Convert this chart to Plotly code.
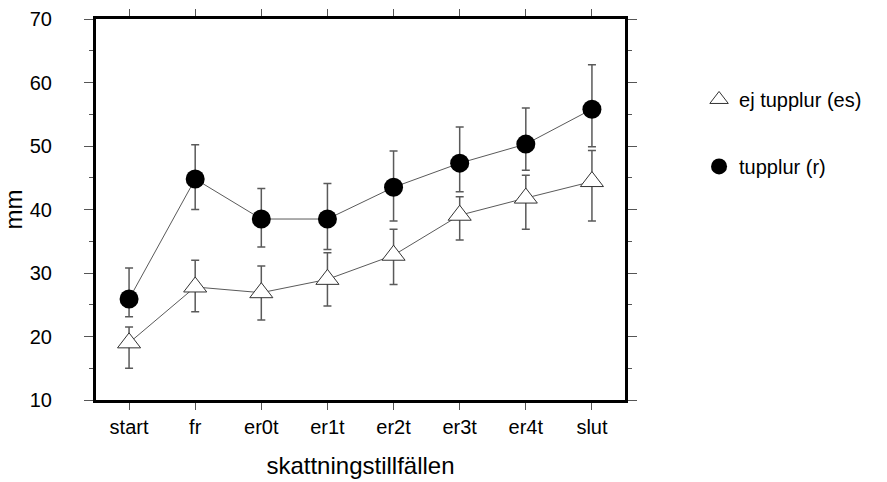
import plotly.graph_objects as go

categories = ["start", "fr", "er0t", "er1t", "er2t", "er3t", "er4t", "slut"]

# ej tupplur (es) - triangles
es_mean = [19.0, 27.8, 26.9, 29.0, 32.8, 39.1, 41.8, 44.4]
es_upper = [21.5, 32.0, 31.1, 33.2, 36.9, 42.0, 45.4, 49.3]
es_lower = [15.0, 23.9, 22.6, 24.8, 28.2, 35.2, 36.9, 38.2]

# tupplur (r) - filled circles
r_mean = [25.9, 44.8, 38.5, 38.5, 43.5, 47.3, 50.3, 55.8]
r_upper = [30.8, 50.2, 43.3, 44.1, 49.2, 53.0, 56.0, 62.8]
r_lower = [23.1, 40.0, 34.1, 33.7, 38.2, 42.8, 46.2, 49.9]

y_ticks = [10, 20, 30, 40, 50, 60, 70]

FONT = "Liberation Sans, Arial, Helvetica, sans-serif"

def err(mean, up, lo):
    return dict(
        type="data", symmetric=False,
        array=[u - m for u, m in zip(up, mean)],
        arrayminus=[m - l for m, l in zip(mean, lo)],
        color="#5a5a5a", thickness=1.5, width=4,
    )

es_marker = dict(symbol="triangle-up", size=20, color="white",
                 line=dict(color="#333333", width=1))
r_marker = dict(symbol="circle", size=19, color="black",
                line=dict(color="black", width=0))

fig = go.Figure()
fig.add_trace(go.Scatter(
    x=categories, y=es_mean, name="ej tupplur (es)", mode="lines+markers",
    line=dict(color="#5a5a5a", width=1), marker=es_marker,
    error_y=err(es_mean, es_upper, es_lower), showlegend=False,
))
fig.add_trace(go.Scatter(
    x=categories, y=r_mean, name="tupplur (r)", mode="lines+markers",
    line=dict(color="#5a5a5a", width=1), marker=r_marker,
    error_y=err(r_mean, r_upper, r_lower), showlegend=False,
))
# legend entries (markers only)
fig.add_trace(go.Scatter(x=[None], y=[None], name="ej tupplur (es)", mode="markers",
                         marker=es_marker, legendgroup="es"))
fig.add_trace(go.Scatter(x=[None], y=[None], name="tupplur (r)", mode="markers",
                         marker=r_marker, legendgroup="r"))

fig.update_layout(
    width=887, height=482,
    margin=dict(l=96, r=262, t=19, b=82),
    paper_bgcolor="white", plot_bgcolor="white",
    font=dict(family=FONT, size=20, color="black"),
    legend=dict(x=1.14, xanchor="left", y=0.84, yanchor="top",
                tracegroupgap=38, font=dict(size=20),
                bgcolor="rgba(0,0,0,0)"),
    xaxis=dict(
        type="category", range=[-0.5, 7.5], automargin=False,
        showgrid=False, zeroline=False,
        showline=True, linecolor="black", linewidth=3, mirror="ticks",
        ticks="outside", ticklen=7, tickcolor="#555555", tickwidth=1,
        title=dict(text="skattningstillfällen", standoff=21),
    ),
    yaxis=dict(
        range=[10, 70], tickvals=y_ticks, automargin=False,
        showgrid=False, zeroline=False,
        showline=True, linecolor="black", linewidth=3, mirror="ticks",
        ticks="outside", ticklen=9, tickcolor="#555555", tickwidth=1,
        ticklabelstandoff=28,
        minor=dict(dtick=5, ticks="outside", ticklen=4, tickcolor="#555555", showgrid=False),
        title=dict(text="mm", standoff=12),
    ),
)

fig.write_html("out.html")
